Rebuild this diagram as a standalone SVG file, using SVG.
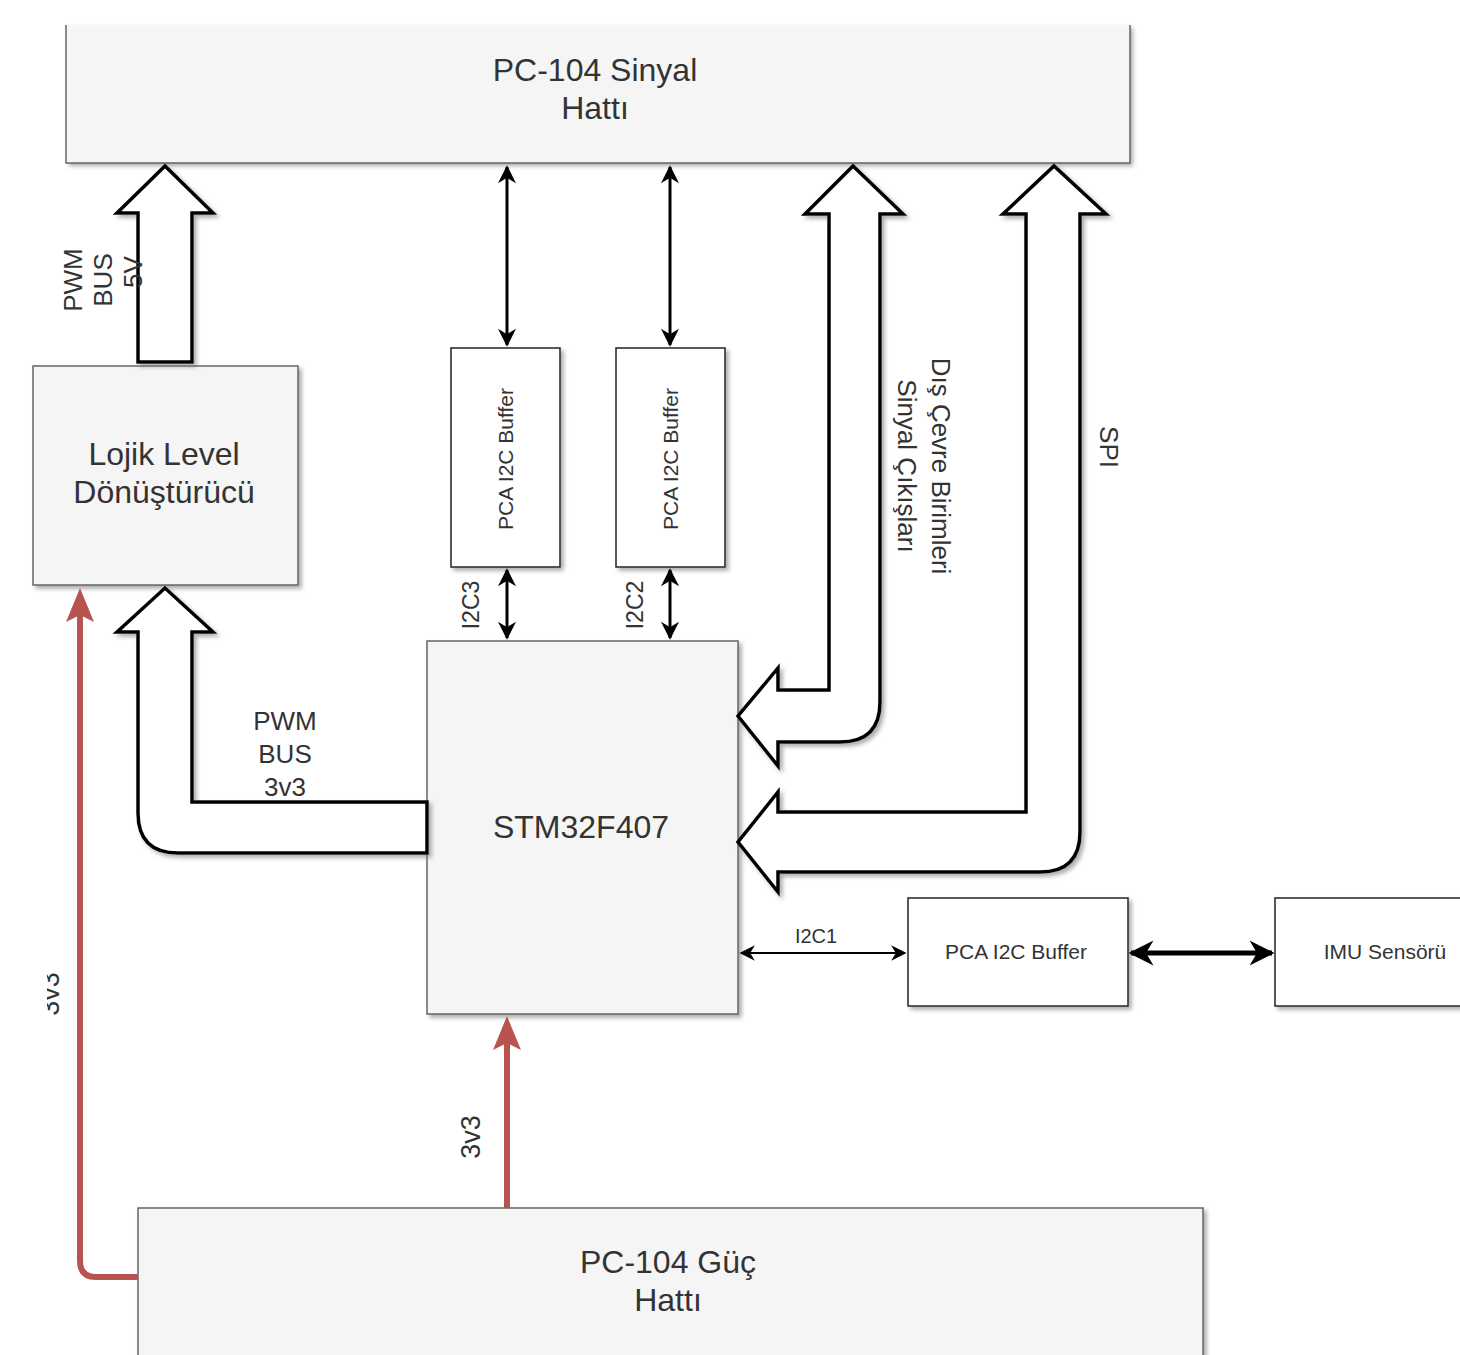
<svg xmlns="http://www.w3.org/2000/svg" width="1460" height="1355" viewBox="0 0 1460 1355">
<defs>
<style>
.t{font-family:"Liberation Sans",Arial,sans-serif;fill:#333;text-anchor:middle}
.gray{fill:#f5f5f5;stroke:#666;stroke-width:1.5}
.white{fill:#fff;stroke:#222;stroke-width:1.5}
.fat{fill:#fff;stroke:#000;stroke-width:3.5;stroke-linejoin:miter}
.dbl{stroke:#000;stroke-width:3;fill:none}
.red{stroke:#b85450;stroke-width:6;fill:none}
.rhead{fill:#b85450}
</style>
<filter id="sh" x="-5%" y="-5%" width="115%" height="120%">
<feDropShadow dx="3" dy="3" stdDeviation="2" flood-color="#777" flood-opacity="0.6"/>
</filter>
<marker id="ah" viewBox="0 0 10 10" refX="9" refY="5" markerWidth="6.5" markerHeight="6" orient="auto-start-reverse" markerUnits="strokeWidth">
<path d="M0,0 L10,5 L0,10 L3,5 Z" fill="#000"/>
</marker>
<marker id="ahs" viewBox="0 0 10 10" refX="9" refY="5" markerWidth="8" markerHeight="7" orient="auto-start-reverse" markerUnits="strokeWidth">
<path d="M0,0 L10,5 L0,10 L3,5 Z" fill="#000"/>
</marker>
<marker id="ahb" viewBox="0 0 10 10" refX="9" refY="5" markerWidth="5" markerHeight="5" orient="auto-start-reverse" markerUnits="strokeWidth">
<path d="M0,0 L10,5 L0,10 L3,5 Z" fill="#000"/>
</marker>
<clipPath id="c5"><rect x="47" y="940" width="40" height="100"/></clipPath>
</defs>
<rect width="1460" height="1355" fill="#fff"/>

<g id="pc104-sinyal">
<rect x="66" y="25" width="1064" height="138" fill="#f5f5f5" filter="url(#sh)"/>
<path d="M66,25 V163 H1130 V25" fill="none" stroke="#666" stroke-width="1.5"/>
<text class="t" x="595" y="81" font-size="32">PC-104 Sinyal</text>
<text class="t" x="595" y="119" font-size="32">Hattı</text>
</g>

<g id="lojik">
<rect class="gray" x="33" y="366" width="265" height="219" filter="url(#sh)"/>
<text class="t" x="164" y="465" font-size="32">Lojik Level</text>
<text class="t" x="164" y="503" font-size="32">Dönüştürücü</text>
</g>

<g id="pca3">
<rect class="white" x="451" y="348" width="109" height="219" filter="url(#sh)"/>
<text class="t" transform="translate(513,459) rotate(-90)" font-size="21">PCA I2C Buffer</text>
</g>
<g id="pca2">
<rect class="white" x="616" y="348" width="109" height="219" filter="url(#sh)"/>
<text class="t" transform="translate(678,459) rotate(-90)" font-size="21">PCA I2C Buffer</text>
</g>

<g id="stm">
<rect class="gray" x="427" y="641" width="311" height="373" filter="url(#sh)"/>
<text class="t" x="581" y="838" font-size="32">STM32F407</text>
</g>

<g id="pca1">
<rect class="white" x="908" y="898" width="220" height="108" filter="url(#sh)"/>
<text class="t" x="1016" y="959" font-size="21">PCA I2C Buffer</text>
</g>

<g id="imu">
<rect class="white" x="1275" y="898" width="200" height="108" filter="url(#sh)"/>
<text class="t" x="1385" y="959" font-size="21">IMU Sensörü</text>
</g>

<g id="pc104-guc">
<rect class="gray" x="138" y="1208" width="1065" height="160" filter="url(#sh)"/>
<text class="t" x="668" y="1273" font-size="32">PC-104 Güç</text>
<text class="t" x="668" y="1311" font-size="32">Hattı</text>
</g>

<g id="connectors">
<path class="fat" filter="url(#sh)" d="M138,362 V213 H117 L165,166 L213,213 H192 V362 Z"/>
<path class="fat" filter="url(#sh)" d="M427,802 H192 V632 H213 L165,588 L117,632 H138 V813 Q138,853 178,853 H427 Z"/>
<path class="fat" filter="url(#sh)" d="M829,214 H805 L853,166 L903,214 H880 V702 Q880,742 840,742 H778 V766 L738,716 L778,668 V690 H829 Z"/>
<path class="fat" filter="url(#sh)" d="M1026,214 H1003 L1054,166 L1106,214 H1080 V832 Q1080,872 1040,872 H778 V892 L738,842 L778,792 V812 H1026 Z"/>

<line class="dbl" x1="507" y1="167" x2="507" y2="345" marker-start="url(#ah)" marker-end="url(#ah)"/>
<line class="dbl" x1="670" y1="167" x2="670" y2="345" marker-start="url(#ah)" marker-end="url(#ah)"/>
<line class="dbl" x1="507" y1="570" x2="507" y2="638" marker-start="url(#ah)" marker-end="url(#ah)"/>
<line class="dbl" x1="670" y1="570" x2="670" y2="638" marker-start="url(#ah)" marker-end="url(#ah)"/>
<line stroke="#000" stroke-width="2.2" x1="741" y1="953" x2="905" y2="953" marker-start="url(#ahs)" marker-end="url(#ahs)"/>
<line stroke="#000" stroke-width="5" x1="1131" y1="953" x2="1272" y2="953" marker-start="url(#ahb)" marker-end="url(#ahb)"/>

<path class="red" d="M138,1277 H96 Q80,1277 80,1261 V610"/>
<polygon class="rhead" points="80,588 94,622 80,615 66,622"/>
<path class="red" d="M507,1208 V1040"/>
<polygon class="rhead" points="507,1016 521,1050 507,1043 493,1050"/>

<text class="t" transform="translate(82,280) rotate(-90)" font-size="26">PWM</text>
<text class="t" transform="translate(112,280) rotate(-90)" font-size="26">BUS</text>
<text class="t" transform="translate(142,272) rotate(-90)" font-size="26">5V</text>
<text class="t" x="285" y="730" font-size="26">PWM</text>
<text class="t" x="285" y="763" font-size="26">BUS</text>
<text class="t" x="285" y="796" font-size="26">3v3</text>
<text class="t" transform="translate(479,605) rotate(-90)" font-size="23">I2C3</text>
<text class="t" transform="translate(643,605) rotate(-90)" font-size="23">I2C2</text>
<text class="t" transform="translate(932,466) rotate(90)" font-size="26">Dış Çevre Birimleri</text>
<text class="t" transform="translate(898,466) rotate(90)" font-size="26">Sinyal Çıkışları</text>
<text class="t" transform="translate(1100,447) rotate(90)" font-size="26">SPI</text>
<text class="t" x="816" y="943" font-size="20">I2C1</text>
<text class="t" transform="translate(480,1137) rotate(-90)" font-size="27">3v3</text>
<g clip-path="url(#c5)"><text class="t" transform="translate(59,994) rotate(-90)" font-size="27">3v3</text></g>
</g>
</svg>
